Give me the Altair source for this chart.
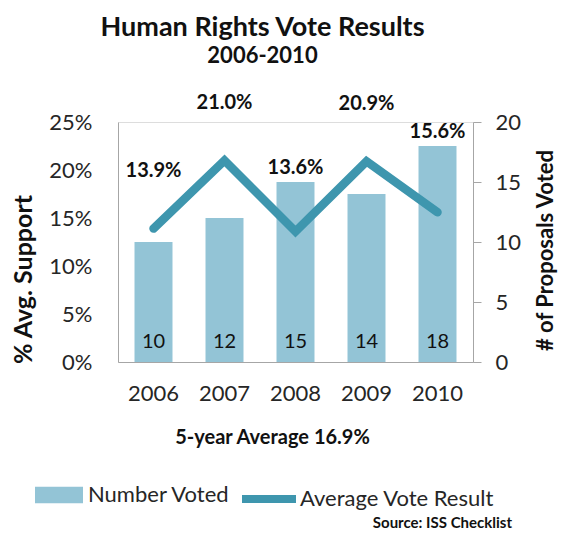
import altair as alt
import pandas as pd

years = ["2006", "2007", "2008", "2009", "2010"]
avg_support = [13.9, 21.0, 13.6, 20.9, 15.6]
num_voted = [10, 12, 15, 14, 18]
pct_ticks = [0, 5, 10, 15, 20, 25]
count_ticks = [0, 5, 10, 15, 20]

title_text = "Human Rights Vote Results"
subtitle_text = "2006-2010"
x_title = "5-year Average 16.9%"
left_title = "% Avg. Support"
right_title = "# of Proposals Voted"
bar_series = "Number Voted"
line_series = "Average Vote Result"
source_text = "Source: ISS Checklist"

df = pd.DataFrame({"year": years, "pct": avg_support, "num": num_voted})

FONT = "Lato"
BAR = "#93C4D6"
LINE = "#3E96AE"
TXT = "#262626"
DARK = "#111111"
AX = "#A6A6A6"

base = alt.Chart(df).transform_calculate(
    s1=f"'{bar_series}'",
    s2=f"'{line_series}'",
    zero="0",
    lab="format(datum.pct, '.1f') + '%'",
    lp="max(datum.pct + 6, datum.num * 25 / 20 + 1.5)",
)

x_enc = alt.X(
    "year:N",
    title=x_title,
    scale=alt.Scale(paddingInner=0.465, paddingOuter=0.2325),
    axis=alt.Axis(
        labelAngle=0, ticks=False, tickSize=0, domainColor=AX, domainWidth=1,
        labelFont=FONT, labelFontSize=22, labelColor=TXT, labelPadding=21,
        titleFont=FONT, titleFontSize=20, titleFontWeight="bold", titleColor=DARK,
        titleX=154, titleY=75, titleAlign="center", titleBaseline="middle",
    ),
)

right_axis = alt.Axis(
    orient="right", values=count_ticks, tickSize=8, tickColor=AX, domainColor=AX,
    grid=False, labelFont=FONT, labelFontSize=22, labelColor=TXT, labelPadding=14,
    title=right_title, titleFont=FONT, titleFontSize=22, titleFontWeight="bold",
    titleColor=DARK, titleAngle=270, titleX=72, titleY=128,
    titleAlign="center", titleBaseline="middle",
)

left_axis = alt.Axis(
    orient="left", values=pct_ticks, labelExpr="datum.value + '%'",
    ticks=False, tickSize=0, domainColor=AX, grid=False,
    labelFont=FONT, labelFontSize=22, labelColor=TXT, labelPadding=26,
    title=left_title, titleFont=FONT, titleFontSize=25, titleFontWeight="bold",
    titleColor=DARK, titleAngle=270, titleX=-95, titleY=157,
    titleAlign="center", titleBaseline="middle",
)

count_scale = alt.Scale(domain=[0, 20])
pct_scale = alt.Scale(domain=[0, 25])

bars = base.mark_bar().encode(
    x=x_enc,
    y=alt.Y("num:Q", scale=count_scale, axis=right_axis),
    fill=alt.Fill(
        "s1:N",
        scale=alt.Scale(domain=[bar_series], range=[BAR]),
        legend=alt.Legend(
            title=None, orient="none", legendX=-83, legendY=349,
            symbolType="M-1,-0.34L1,-0.34L1,0.34L-1,0.34Z", symbolSize=2304,
            symbolStrokeWidth=0, labelFont=FONT, labelFontSize=22,
            labelColor=TXT, labelOffset=5, padding=0, labelLimit=300,
        ),
    ),
)

bar_text = base.mark_text(
    dy=-20, fontSize=20, font=FONT, color=DARK, baseline="middle"
).encode(
    x=x_enc,
    y=alt.Y("zero:Q", scale=count_scale, axis=right_axis),
    text="num:Q",
)

line = base.mark_line(strokeWidth=8.5, strokeCap="round", strokeJoin="miter").encode(
    x=x_enc,
    y=alt.Y("pct:Q", scale=pct_scale, axis=left_axis),
    stroke=alt.Stroke(
        "s2:N",
        scale=alt.Scale(domain=[line_series], range=[LINE]),
        legend=alt.Legend(
            title=None, orient="none", legendX=120, legendY=346,
            symbolType="stroke", symbolSize=2916, symbolStrokeWidth=8,
            labelFont=FONT, labelFontSize=22, labelColor=TXT,
            labelOffset=0, padding=0, labelLimit=300,
        ),
    ),
)

line_text = base.mark_text(
    fontSize=20, fontWeight="bold", font=FONT, color=DARK, baseline="middle"
).encode(
    x=x_enc,
    y=alt.Y("lp:Q", scale=pct_scale, axis=left_axis),
    text="lab:N",
)

source = alt.Chart(pd.DataFrame({"t": [source_text]})).mark_text(
    font=FONT, fontSize=15, fontWeight="bold", color=DARK, align="right", baseline="middle"
).encode(text="t:N", x=alt.value(394), y=alt.value(401))

chart = alt.layer(
    alt.layer(bars, bar_text),
    alt.layer(line, line_text),
    source,
).resolve_scale(y="independent").properties(
    width=355,
    height=240,
    title=alt.TitleParams(
        text=title_text, subtitle=subtitle_text, anchor="middle", dx=-33,
        font=FONT, fontSize=27, fontWeight="bold", color=DARK,
        subtitleFont=FONT, subtitleFontSize=22, subtitleFontWeight="bold",
        subtitleColor=DARK, subtitlePadding=4, offset=25,
    ),
    autosize=alt.AutoSizeParams(type="none"),
    padding={"left": 110, "top": 114, "right": 86, "bottom": 171},
).configure_view(stroke=None).configure(background="white")

chart.save("out.html", embed_options={"renderer": "svg", "actions": False})
